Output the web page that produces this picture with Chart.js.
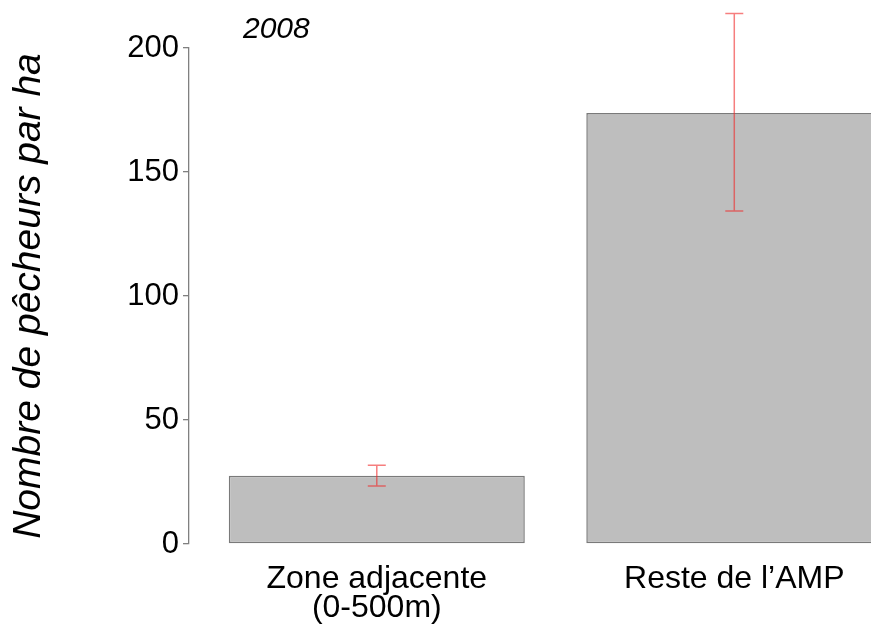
<!DOCTYPE html>
<html><head><meta charset="utf-8">
<script src="https://cdn.jsdelivr.net/npm/chart.js@4/dist/chart.umd.min.js"></script>
<style>html,body{margin:0;padding:0;background:#fff}#wrap{width:871px;height:634px}</style>
</head><body><div id="wrap"><canvas id="c" width="871" height="634"></canvas></div>
<script>
// ---- data ----
const categories = [['Zone adjacente', '(0-500m)'], ['Reste de l\u2019AMP']];
const means = [27.5, 173.8];
const errLow = [23.4, 134.3];
const errHigh = [31.8, 213.9];
const yTicks = [0, 50, 100, 150, 200];
const panelLabel = '2008';
const yTitle = 'Nombre de p\u00eacheurs par ha';

const FONT = "'Liberation Sans', Arial, sans-serif";

const errorBarPlugin = {
  id: 'errorBars',
  afterDatasetsDraw(chart) {
    const ctx = chart.ctx;
    const meta = chart.getDatasetMeta(0);
    const y = chart.scales.y;
    ctx.save();
    ctx.strokeStyle = 'rgba(240,40,40,0.6)';
    ctx.lineWidth = 1.5;
    meta.data.forEach((bar, i) => {
      const x = bar.x;
      const yl = y.getPixelForValue(errLow[i]);
      const yh = y.getPixelForValue(errHigh[i]);
      const cap = 9;
      ctx.beginPath();
      ctx.moveTo(x, yl); ctx.lineTo(x, yh);
      ctx.moveTo(x - cap, yl); ctx.lineTo(x + cap, yl);
      ctx.moveTo(x - cap, yh); ctx.lineTo(x + cap, yh);
      ctx.stroke();
    });
    ctx.restore();
  }
};

const panelLabelPlugin = {
  id: 'panelLabel',
  afterDraw(chart) {
    const ctx = chart.ctx;
    const a = chart.chartArea;
    ctx.save();
    ctx.font = "italic 30px " + FONT;
    ctx.fillStyle = '#000';
    ctx.textBaseline = 'alphabetic';
    ctx.textAlign = 'left';
    ctx.fillText(panelLabel, a.left + 54, a.top - 10);
    ctx.restore();
  }
};

new Chart(document.getElementById('c'), {
  type: 'bar',
  data: {
    datasets: [{
      data: means.map((v, i) => ({ x: i + 1, y: v })),
      backgroundColor: '#bebebe',
      borderColor: '#7a7a7a',
      borderWidth: 1.5,
      borderSkipped: false,
      categoryPercentage: 1,
      barPercentage: 0.828
    }]
  },
  options: {
    responsive: false,
    devicePixelRatio: 1,
    animation: false,
    layout: { padding: { top: 48, right: 0, left: 0, bottom: 0 } },
    plugins: { legend: { display: false }, tooltip: { enabled: false } },
    scales: {
      x: {
        type: 'linear',
        offset: false,
        min: 0.4747,
        max: 2.3824,
        afterBuildTicks: (s) => { s.ticks = categories.map((c, i) => ({ value: i + 1 })); },
        afterFit: (s) => { s.height = 90; },
        grid: { display: false, drawTicks: false, offset: false },
        border: { display: false },
        ticks: {
          autoSkip: false,
          maxRotation: 0,
          padding: 21,
          color: '#000',
          font: { family: FONT, size: 32, lineHeight: 0.89 },
          callback: (v) => categories[Math.round(v) - 1]
        }
      },
      y: {
        min: 0,
        max: 200,
        afterBuildTicks: (s) => { s.ticks = yTicks.map(v => ({ value: v })); },
        afterFit: (s) => { s.width = 189; },
        grid: { drawOnChartArea: false, drawTicks: true, tickLength: 6, color: '#808080', lineWidth: 1.3 },
        border: { display: true, color: '#808080', width: 1.3 },
        ticks: {
          padding: 4,
          color: '#000',
          font: { family: FONT, size: 31 }
        },
        title: {
          display: true,
          text: yTitle,
          color: '#000',
          padding: { top: 6, bottom: 0 },
          font: { family: FONT, size: 39, style: 'italic', lineHeight: 1.2 }
        }
      }
    }
  },
  plugins: [errorBarPlugin, panelLabelPlugin]
});
</script>
</body></html>
